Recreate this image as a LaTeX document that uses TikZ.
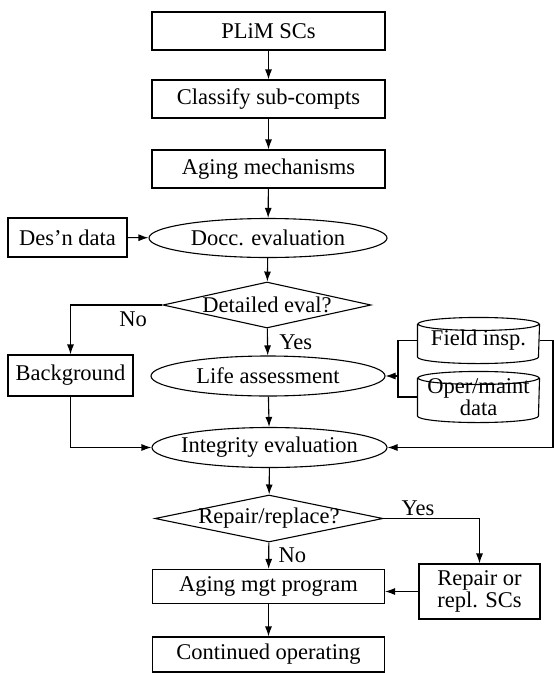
\documentclass[tikz,border=0pt]{standalone}
\usepackage{fontspec}
\setmainfont{Liberation Serif}
\usetikzlibrary{shapes.geometric, arrows.meta}
\newcommand{\zw}[1]{\makebox[0pt]{#1}}
\tikzset{
  box/.style={draw, inner sep=0pt},
  oval/.style={draw, ellipse, inner sep=0pt},
  decide/.style={draw, diamond, inner sep=0pt},
  store/.style={inner sep=0pt, align=center},
  link/.style={-{Latex[length=10pt,width=7pt]}},
}

\begin{document}
\begin{tikzpicture}[x=1pt, y=-1pt, line width=1.1pt,
                    font=\fontsize{22.5}{18}\selectfont]
    \useasboundingbox (0,0) rectangle (554,673);

    % main column
    \node[box, minimum width=233, minimum height=38] (plim) at (268.5,31) {PLiM SCs};
    \node[box, minimum width=233, minimum height=38] (classify) at (268.5,99) {Classify sub-compts};
    \node[box, minimum width=233, minimum height=38] (aging) at (268.5,169) {Aging mechanisms};
    \node[oval, minimum width=238, minimum height=39] (docc) at (268,238) {\zw{Docc. evaluation}};
    \node[decide, minimum width=208, minimum height=46] (detail) at (267,305) {\zw{Detailed eval?}};
    \node[oval, minimum width=234, minimum height=40] (life) at (268,376) {\zw{Life assessment}};
    \node[oval, minimum width=235, minimum height=40] (integ) at (269.5,447.5) {\zw{Integrity evaluation}};
    \node[decide, minimum width=228, minimum height=47] (repair) at (269,518.5) {\zw{Repair/replace?}};
    \node[box, minimum width=232, minimum height=34] (agingmgt) at (268.5,586.5) {Aging mgt program};
    \node[box, minimum width=232, minimum height=35] (cont) at (268.5,654.5) {Continued operating};

    % side inputs
    \node[box, minimum width=119, minimum height=39] (desn) at (67.5,237.5) {Des'n data};
    \node[box, minimum width=125, minimum height=41] (background) at (70.5,375.5) {Background};
    \node[store, minimum width=121, minimum height=45] (field) at (478.5,340.5) {\raisebox{-3pt}{Field insp.}};
    \node[store, minimum width=121, minimum height=50] (oper) at (478.5,397) {\raisebox{-3pt}{Oper/maint}\\data};
    \node[box, minimum width=121, minimum height=55, align=center] (repl) at (479.5,591.5) {Repair or\\repl. SCs};

    % drums round the two data stores
    \foreach \db in {field, oper} {
      \draw ([yshift=-6.5pt]\db.north) ellipse [x radius=60.5pt, y radius=6.5pt];
      \draw ([yshift=-6.5pt]\db.north west) -- ([yshift=6.5pt]\db.south west)
            arc [start angle=180, end angle=360, x radius=60.5pt, y radius=6.5pt]
            -- ([yshift=-6.5pt]\db.north east);
    }

    \coordinate (hub) at (398,376);
    \coordinate (rim) at (553,447.5);

    \draw[link] (plim) -- (classify);
    \draw[link] (classify) -- (aging);
    \draw[link] (aging) -- (docc);
    \draw[link] (desn) -- (docc);
    \draw[link] (docc) -- (detail);
    \draw[link] (detail.west) -| node[pos=0.16, below, yshift=-3pt] (no1) {No} (background.north);
    \draw[link] (detail) -- node[right, xshift=8pt] (yes1) {Yes} (life);
    \draw (field.west) -| (hub) |- (oper.west);
    \draw[link] (hub) -- (life.east);
    \draw[link] (life) -- (integ);
    \draw[link] (background) |- (integ);
    \draw[link] (field.east) -| (rim) -- (integ.east);
    \draw[link] (integ) -- (repair);
    \draw[link] (repair.east) -| node[pos=0.18, above, inner sep=2pt] (yes2) {Yes} (repl.north);
    \draw[link] (repair) -- node[right, xshift=6pt] (no2) {No} (agingmgt);
    \draw[link] (repl.west) -- (repl.west -| agingmgt.east);
    \draw[link] (agingmgt) -- (cont);
\end{tikzpicture}
\end{document}
